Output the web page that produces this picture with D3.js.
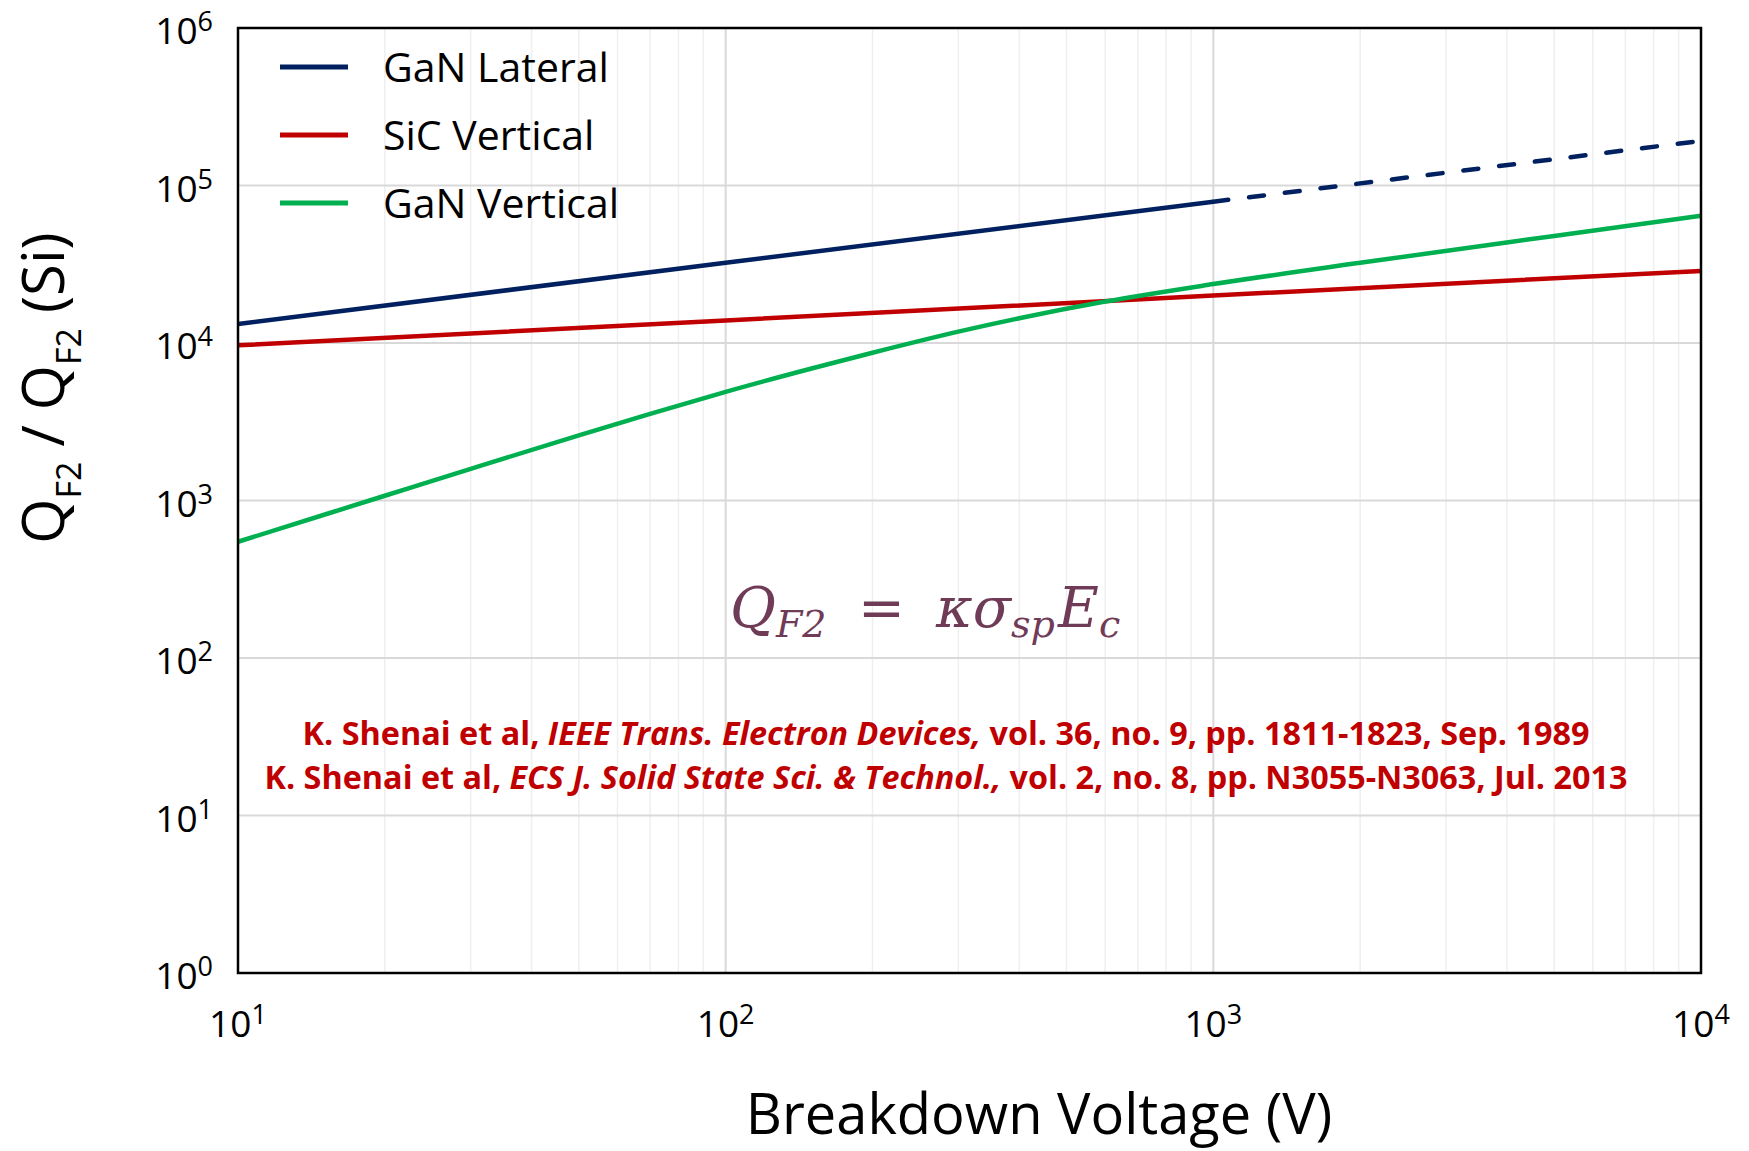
<!DOCTYPE html>
<html>
<head>
<meta charset="utf-8">
<script src="https://cdn.jsdelivr.net/npm/d3@7"></script>
<style>
  body { margin: 0; background: #fff; }
  svg { display: block; }
</style>
</head>
<body>
<svg id="chart" width="1749" height="1151"></svg>
<script>
// Breakdown voltage (V) sample points for the straight log-log lines
const voltage = [10, 100, 1000, 10000];
// GaN lateral: solid up to 1 kV, dashed (projected) beyond
const ganLateral = [13200, 32300, 78900, 192000];
// SiC vertical
const sicVertical = [9660, 13900, 20000, 28700];
// GaN vertical is curved, so it is read at more points
const ganVerticalV = [10, 20, 30, 50, 70, 100, 150, 200, 300, 400, 600, 1000, 2000, 5000, 10000];
const ganVertical = [547, 1072, 1589, 2594, 3548, 4898, 6887, 8670, 11800, 14360, 18320, 23660, 32280, 47860, 64270];

const seriesNames = ["GaN Lateral", "SiC Vertical", "GaN Vertical"];
const seriesColors = ["#002060", "#c00000", "#00b050"];

const xTickExp = [1, 2, 3, 4];
const yTickExp = [0, 1, 2, 3, 4, 5, 6];

const width = 1749;
const height = 1151;
const plot = { left: 238, right: 1701, top: 28, bottom: 973 };

const svg = d3.select("#chart");

const x = d3.scaleLog().domain([10, 10000]).range([plot.left, plot.right]);
const y = d3.scaleLog().domain([1, 1e6]).range([plot.bottom, plot.top]);

// gridlines: minor verticals first, then decade lines on top
const grid = svg.append("g");
const minorX = [];
xTickExp.slice(0, -1).forEach(e => {
    for (let k = 2; k <= 9; k++) minorX.push(k * Math.pow(10, e));
});
grid.selectAll("line.minor")
    .data(minorX)
    .enter().append("line")
    .attr("x1", d => x(d)).attr("x2", d => x(d))
    .attr("y1", plot.top).attr("y2", plot.bottom)
    .style("stroke", "#efefef")
    .style("stroke-width", 1.5);
grid.selectAll("line.majorx")
    .data(xTickExp.map(e => Math.pow(10, e)))
    .enter().append("line")
    .attr("x1", d => x(d)).attr("x2", d => x(d))
    .attr("y1", plot.top).attr("y2", plot.bottom)
    .style("stroke", "#d9d9d9")
    .style("stroke-width", 2);
grid.selectAll("line.majory")
    .data(yTickExp.map(e => Math.pow(10, e)))
    .enter().append("line")
    .attr("x1", plot.left).attr("x2", plot.right)
    .attr("y1", d => y(d)).attr("y2", d => y(d))
    .style("stroke", "#d9d9d9")
    .style("stroke-width", 2);

// data lines
const line = d3.line().x(d => x(d[0])).y(d => y(d[1]));
const lines = svg.append("g").style("fill", "none").style("stroke-width", 4.5);

const latPts = voltage.map((v, i) => [v, ganLateral[i]]);
lines.append("path")
    .attr("d", line(latPts.filter(d => d[0] <= 1000)))
    .style("stroke", seriesColors[0]);
lines.append("path")
    .attr("d", line(latPts.filter(d => d[0] >= 1000)))
    .style("stroke", seriesColors[0])
    .style("stroke-dasharray", "15 21")
    .style("stroke-linecap", "round");

lines.append("path")
    .attr("d", line(voltage.map((v, i) => [v, sicVertical[i]])))
    .style("stroke", seriesColors[1]);

lines.append("path")
    .attr("d", line.curve(d3.curveMonotoneX)(ganVerticalV.map((v, i) => [v, ganVertical[i]])))
    .style("stroke", seriesColors[2]);

// plot frame
svg.append("rect")
    .attr("x", plot.left).attr("y", plot.top)
    .attr("width", plot.right - plot.left)
    .attr("height", plot.bottom - plot.top)
    .style("fill", "none")
    .style("stroke", "#000")
    .style("stroke-width", 2.5);

// tick labels, 10 with a superscript exponent
const font = "'Open Sans', 'Noto Sans', sans-serif";
function power(sel) {
    sel.append("tspan").text("10");
    sel.append("tspan").attr("dy", -13).style("font-size", "27px").text(d => d);
}
svg.append("g").selectAll("text")
    .data(xTickExp)
    .enter().append("text")
    .attr("x", d => x(Math.pow(10, d)))
    .attr("y", 1037)
    .attr("text-anchor", "middle")
    .style("font-family", font)
    .style("font-size", "37px")
    .call(power);
svg.append("g").selectAll("text")
    .data(yTickExp)
    .enter().append("text")
    .attr("x", 213)
    .attr("y", d => y(Math.pow(10, d)) + 16)
    .attr("text-anchor", "end")
    .style("font-family", font)
    .style("font-size", "37px")
    .call(power);

// axis titles
svg.append("text")
    .attr("x", 1039).attr("y", 1134)
    .attr("text-anchor", "middle")
    .style("font-family", font)
    .style("font-size", "56px")
    .text("Breakdown Voltage (V)");

const yTitle = svg.append("text")
    .attr("transform", "translate(64,388) rotate(-90)")
    .attr("text-anchor", "middle")
    .style("font-family", font)
    .style("font-size", "58px");
yTitle.append("tspan").text("Q");
yTitle.append("tspan").attr("dy", 17).style("font-size", "34px").text("F2");
yTitle.append("tspan").attr("dy", -17).text(" / Q");
yTitle.append("tspan").attr("dy", 17).style("font-size", "34px").text("F2");
yTitle.append("tspan").attr("dy", -17).text(" (Si)");

// legend
const legend = svg.append("g").selectAll("g")
    .data(seriesNames)
    .enter().append("g")
    .attr("transform", (d, i) => `translate(0, ${67 + i * 68})`);
legend.append("line")
    .attr("x1", 280).attr("x2", 348)
    .style("stroke", (d, i) => seriesColors[i])
    .style("stroke-width", 5);
legend.append("text")
    .attr("x", 383).attr("y", 15)
    .style("font-family", font)
    .style("font-size", "41px")
    .text(d => d);

// formula
const formula = svg.append("text")
    .attr("y", 627)
    .style("font-family", "'DejaVu Serif', serif")
    .style("font-size", "56px")
    .style("fill", "#6f3b57");
formula.append("tspan").attr("x", 730).style("font-style", "italic").text("Q");
formula.append("tspan").attr("dy", 10).style("font-style", "italic").style("font-size", "38px").text("F2");
formula.append("tspan").attr("x", 858).attr("dy", -10).text("=");
formula.append("tspan").attr("x", 936).style("font-style", "italic").text("κσ");
formula.append("tspan").attr("dy", 10).style("font-style", "italic").style("font-size", "38px").text("sp");
formula.append("tspan").attr("x", 1058).attr("dy", -10).style("font-style", "italic").text("E");
formula.append("tspan").attr("dy", 10).style("font-style", "italic").style("font-size", "38px").text("c");

// references
const refs = [
    { pre: "K. Shenai et al, ", it: "IEEE Trans. Electron Devices,", post: " vol. 36, no. 9, pp. 1811-1823, Sep. 1989", y: 745, len: 1287 },
    { pre: "K. Shenai et al, ", it: "ECS J. Solid State Sci. & Technol.,", post: " vol. 2, no. 8, pp. N3055-N3063, Jul. 2013", y: 789, len: 1363 }
];
refs.forEach(r => {
    const t = svg.append("text")
        .attr("x", 946).attr("y", r.y)
        .attr("text-anchor", "middle")
        .attr("textLength", r.len)
        .attr("lengthAdjust", "spacingAndGlyphs")
        .style("font-family", font)
        .style("font-weight", "bold")
        .style("font-size", "33px")
        .style("fill", "#c00000");
    t.append("tspan").text(r.pre);
    t.append("tspan").style("font-style", "italic").text(r.it);
    t.append("tspan").text(r.post);
});
</script>
</body>
</html>
